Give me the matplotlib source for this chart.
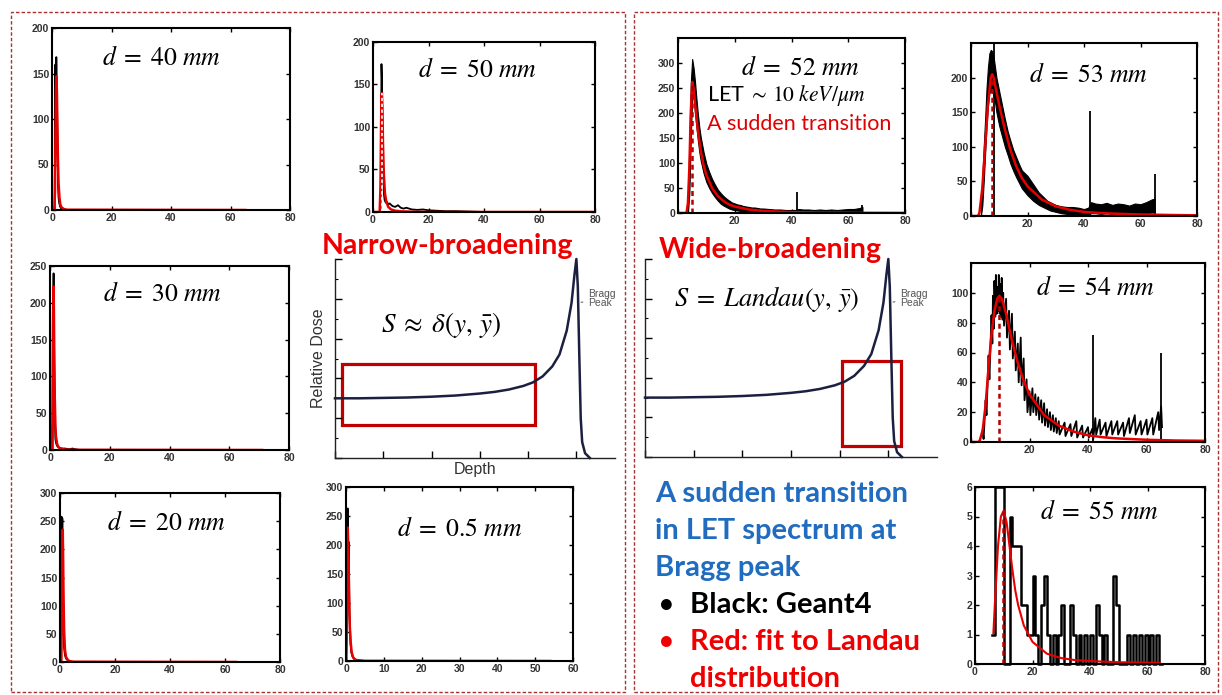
import numpy as np
import matplotlib
matplotlib.use("Agg")
import matplotlib.pyplot as plt
from matplotlib.patches import Rectangle

W, H = 1222, 695
plt.rcParams['mathtext.fontset'] = 'stix'
plt.rcParams['font.family'] = ['Liberation Sans', 'DejaVu Sans']

RED = '#e60000'
DRED = '#b40000'
BOXRED = '#c00000'
NAVY = '#1c2040'
BLUE = '#1f6cc0'

# ---- narrow-broadening spectra (black = Geant4, red = Landau fit) ----
bx40 = [0, 0.9, 1.0, 1.15, 1.3, 1.45, 1.6, 1.75, 1.9, 2.05, 2.2, 2.4, 2.7, 3.0, 3.5, 4.2, 5.0, 80]
by40 = [0, 0, 150, 160, 120, 168, 140, 100, 55, 25, 14, 8, 4, 2, 1, 0.5, 0, 0]
rx40 = [0.8, 1.0, 1.2, 1.35, 1.5, 1.65, 1.8, 2.0, 2.2, 2.5, 2.8, 3.2, 4.0, 5.0, 65]
ry40 = [0, 20, 90, 135, 147, 130, 95, 55, 30, 14, 6, 3, 1, 0.3, 0]

bx50 = [0, 2.4, 2.7, 2.9, 3.05, 3.2, 3.35, 3.5, 3.7, 3.9, 4.2, 4.6, 5.0, 5.5, 6, 7, 8, 9, 10,
        11, 12, 14, 16, 18, 20, 23, 26, 30, 35, 40, 80]
by50 = [0, 0, 3, 60, 174, 158, 120, 70, 38, 22, 14, 11, 12, 9, 10, 7, 6, 8, 5,
        4, 5, 3, 2.5, 3, 2, 1.5, 1, 1, 0.5, 0, 0]
rx50 = [0, 2.4, 2.7, 2.9, 3.05, 3.2, 3.4, 3.6, 3.9, 4.3, 4.8, 5.5, 6.5, 8, 10, 14, 20, 80]
ry50 = [0, 0, 30, 100, 135, 140, 120, 80, 45, 22, 12, 6, 3, 1.5, 0.8, 0.3, 0, 0]

bx30 = [0, 0.9, 1.05, 1.2, 1.35, 1.5, 1.65, 1.8, 2.0, 2.3, 2.7, 3.2, 4.0, 5.0, 6.5, 7.5, 8.5, 10, 80]
by30 = [0, 0, 180, 240, 150, 90, 40, 15, 10, 6, 4, 3, 2, 2, 1, 2, 1, 0, 0]
rx30 = [0.6, 0.8, 1.0, 1.15, 1.3, 1.45, 1.6, 1.8, 2.0, 2.4, 2.8, 3.5, 4.5, 6, 71]
ry30 = [0, 40, 170, 222, 190, 120, 70, 35, 18, 8, 4, 2, 1, 0.3, 0]

bx20 = [0, 0.4, 0.55, 0.7, 0.85, 1.0, 1.15, 1.3, 1.5, 1.8, 2.2, 2.8, 3.5, 5, 80]
by20 = [0, 0, 258, 200, 255, 180, 120, 60, 25, 12, 6, 3, 1, 0, 0]
rx20 = [0.5, 0.7, 0.85, 1.0, 1.15, 1.3, 1.5, 1.8, 2.2, 2.8, 3.5, 5, 64]
ry20 = [0, 120, 220, 235, 180, 110, 55, 22, 9, 4, 1.5, 0.5, 0]

bx05 = [0, 0.3, 0.45, 0.6, 0.75, 0.9, 1.05, 1.2, 1.4, 1.7, 2.1, 2.6, 3.5, 5, 60]
by05 = [0, 80, 263, 180, 205, 80, 60, 30, 15, 8, 4, 2, 1, 0, 0]
rx05 = [0.1, 0.3, 0.45, 0.6, 0.8, 1.0, 1.2, 1.5, 1.9, 2.5, 3.5, 5, 54]
ry05 = [0, 150, 230, 200, 120, 60, 35, 15, 6, 2, 1, 0.3, 0]

# ---- wide-broadening spectra: black band (upper / lower edge of noise) ----
x52b = [3.5, 4, 4.5, 5, 5.5, 6, 6.5, 7, 7.5, 8, 9, 10, 11, 12, 13, 14, 15, 16, 17, 18, 19, 20,
        21, 22, 23, 24, 25, 26, 27, 28, 29, 30, 32, 34, 36, 38, 40, 41.5, 42.5, 44, 46, 48, 50,
        52, 54, 56, 58, 60, 62, 64, 65]
hi52 = [30, 140, 260, 308, 290, 262, 228, 198, 172, 152, 122, 98, 82, 68, 57, 47, 40, 34, 29, 25,
        21, 19, 17, 16, 14, 13, 12, 11, 11, 10, 9, 9, 8, 7, 7, 6, 6, 6, 8, 7, 7, 6, 7, 6, 7, 6,
        7, 8, 8, 10, 12]
lo52 = [0, 40, 150, 235, 235, 200, 172, 145, 122, 105, 80, 62, 50, 40, 32, 25, 19, 15, 12, 9, 7,
        6, 5, 4, 3, 2, 2, 1, 1, 1, 0, 0, 0, 0, 0, 0, 0, 0, 1, 1, 1, 1, 1, 1, 1, 1, 1, 1, 2, 2, 2]
spx52, spy52 = [42, 65], [42, 17]
rx52 = [0, 3.0, 3.5, 4.0, 4.5, 5.0, 5.5, 6.0, 7, 8, 9, 10, 12, 14, 16, 18, 20, 25, 30, 40, 50, 65, 80]
ry52 = [0, 0, 20, 90, 200, 262, 250, 220, 165, 125, 96, 76, 50, 34, 24, 17, 13, 7, 4, 1.8, 0.9, 0.3, 0.1]

x53b = [3.5, 4, 4.5, 5, 5.5, 6, 6.5, 7, 7.5, 8, 8.5, 9, 10, 11, 12, 13, 14, 15, 16, 17, 18, 19,
        20, 21, 22, 23, 24, 25, 26, 27, 28, 29, 30, 32, 34, 36, 38, 40, 41.5, 42.5, 44, 46, 48,
        50, 52, 54, 56, 58, 60, 62, 64, 65]
hi53 = [15, 55, 100, 140, 185, 215, 235, 240, 238, 230, 215, 200, 180, 160, 140, 122, 108, 95,
        85, 75, 66, 62, 58, 52, 46, 40, 34, 30, 26, 22, 20, 18, 16, 14, 13, 13, 12, 10, 12, 20,
        18, 17, 19, 16, 18, 17, 15, 18, 17, 20, 24, 25]
lo53 = [0, 15, 50, 90, 130, 160, 178, 180, 180, 175, 165, 150, 130, 115, 100, 88, 75, 65, 56,
        48, 40, 35, 30, 26, 22, 19, 16, 14, 12, 10, 8, 7, 6, 4, 3, 3, 2, 2, 2, 4, 4, 3, 4, 3, 4,
        3, 3, 4, 3, 4, 5, 5]
spx53, spy53 = [8.3, 42, 65], [250, 152, 60]
rx53 = [0, 2.5, 3, 4, 5, 6, 7, 7.5, 8, 9, 10, 12, 14, 16, 18, 20, 25, 30, 35, 40, 45, 50, 60, 70, 80]
ry53 = [0, 0, 5, 40, 100, 160, 200, 205, 200, 180, 160, 125, 95, 72, 55, 43, 24, 14, 9, 6,
        4.5, 3.5, 2.2, 1.5, 1.0]

x54b = [4, 5, 6, 7, 7.5, 8, 8.5, 9, 9.5, 10, 10.5, 11, 12, 13, 14, 15, 16, 17, 18, 19, 20, 21,
        22, 23, 24, 25, 26, 27, 28, 29, 30, 32, 34, 36, 38, 40, 41.5, 42.5, 44, 46, 48, 50, 52,
        54, 56, 58, 60, 62, 64, 65]
hi54 = [8, 28, 58, 85, 98, 108, 112, 104, 112, 106, 110, 100, 96, 88, 86, 74, 66, 70, 56, 42,
        34, 36, 32, 30, 28, 26, 22, 20, 18, 16, 14, 13, 12, 14, 11, 10, 9, 16, 15, 13, 14, 14,
        13, 16, 18, 14, 15, 16, 20, 24]
lo54 = [2, 18, 42, 66, 76, 84, 86, 88, 86, 84, 82, 78, 70, 62, 56, 48, 40, 38, 28, 20, 18, 20,
        18, 15, 13, 11, 10, 8, 7, 6, 5, 4, 4, 3, 3, 3, 2, 5, 5, 4, 5, 5, 4, 6, 5, 5, 5, 5, 8, 10]
spx54, spy54 = [41.6, 64.8], [72, 60]
rx54 = [0, 2.5, 3, 4, 5, 6, 7, 8, 9, 9.7, 10.5, 11, 12, 14, 16, 18, 20, 25, 30, 35, 40, 45,
        50, 60, 70, 80]
ry54 = [0, 0, 1, 8, 25, 50, 72, 88, 96, 98, 96, 93, 86, 68, 53, 41, 32, 18, 11, 7, 4.5, 3.2,
        2.4, 1.5, 1.0, 0.8]

# d = 55 mm: sparse counts, one per 1-unit bin starting at 6
edges55 = list(range(6, 65))
cnt55 = [1, 6, 6, 6, 0, 0, 5, 4, 4, 4, 2, 2, 1, 1, 3, 1, 0, 2, 3, 1, 0, 1, 0, 1, 2, 0, 0, 2, 1,
         0, 1, 0, 1, 0, 1, 0, 2, 1, 0, 1, 0, 0, 3, 2, 0, 0, 0, 1, 0, 1, 0, 1, 0, 1, 0, 1, 0, 1, 0]
rx55 = [6.4, 7, 8, 9, 10, 11, 12, 13, 14, 15, 17, 20, 25, 30, 35, 40, 50, 64.3]
ry55 = [1.05, 2.2, 4.0, 5.0, 5.2, 4.8, 4.0, 3.2, 2.5, 2.0, 1.3, 0.75, 0.35, 0.2, 0.13, 0.1, 0.06, 0.04]

# most probable values (dashed markers)
mode50, mode52, mode53, mode54, mode55 = 3.2, 5.0, 7.3, 9.7, 9.9

# ---- Bragg curve (relative dose vs depth) ----
bragg_x = [0, 0.5, 1, 1.5, 2, 2.5, 3, 3.3, 3.6, 3.9, 4.1, 4.3, 4.5, 4.65, 4.8, 4.9, 4.96,
           5.0, 5.03, 5.06, 5.09, 5.12, 5.18, 5.28]
bragg_y = [1.5, 1.5, 1.51, 1.52, 1.54, 1.57, 1.62, 1.66, 1.72, 1.81, 1.9, 2.05, 2.3, 2.6, 3.2,
           3.9, 4.6, 5.0, 4.3, 2.6, 1.0, 0.4, 0.12, 0]


def px_axes(fig, l, t, r, b):
    return fig.add_axes([l / W, 1 - b / H, (r - l) / W, (b - t) / H])


def spec_axes(fig, box, xmax, ymax, ystep, ytop, xstep=20, show_x0=True):
    ax = px_axes(fig, *box)
    ax.set_xlim(0, xmax); ax.set_ylim(0, ymax)
    xt = list(range(0, xmax + 1, xstep))
    ax.set_xticks(xt)
    ax.set_xticklabels([str(v) if (v or show_x0) else '' for v in xt])
    ax.set_yticks(list(range(0, ytop + 1, ystep)))
    ax.tick_params(direction='in', length=3, width=1, top=True, right=True,
                   labelsize=7.5, pad=2, labelcolor='#333333')
    for lab in ax.get_xticklabels() + ax.get_yticklabels():
        lab.set_fontweight('bold')
    for s in ax.spines.values():
        s.set_linewidth(1.5)
    return ax


def label(ax, x, y, s, size=18.5):
    ax.text(x, y, s, transform=ax.transAxes, ha='center', va='center', fontsize=size)


def narrow(ax, bx, by, rx, ry):
    ax.plot(bx, by, color='k', lw=1.3)
    ax.plot(rx, ry, color=RED, lw=1.8)


def wide(ax, xb, hi, lo, spx, spy, rx, ry, mode, zigzag=False):
    if zigzag:
        xs = np.ravel(np.column_stack([xb, np.array(xb) + 0.3]))
        ys = np.ravel(np.column_stack([hi, lo]))
        ax.plot(xs, ys, color='k', lw=1.3)
    else:
        ax.fill_between(xb, lo, hi, color='k', lw=0.8, edgecolor='k')
    ax.vlines(spx, 0, spy, color='k', lw=1.3)
    ax.plot([65, 80], [0, 0], color='k', lw=1.2)
    ax.plot(rx, ry, color=RED, lw=1.8)
    ax.vlines([mode], 0, [np.interp(mode, rx, ry)], color=DRED, lw=1.8, linestyles=(0, (2, 1.5)))


def bragg_axes(fig, box, xmax):
    ax = px_axes(fig, *box)
    ax.plot(bragg_x, bragg_y, color=NAVY, lw=1.8, clip_on=False)
    ax.set_xlim(0, xmax); ax.set_ylim(0, 5.0)
    ax.spines[['top', 'right']].set_visible(False)
    for s in ('left', 'bottom'):
        ax.spines[s].set_color('#222222'); ax.spines[s].set_linewidth(1.0)
    ax.set_xticks(range(0, 6)); ax.set_yticks(range(0, 6))
    ax.set_yticks(np.arange(0.5, 5, 1.0), minor=True)
    ax.tick_params(direction='in', length=5, width=1, labelbottom=False, labelleft=False)
    ax.tick_params(which='minor', direction='in', length=2.5, width=0.8)
    ax.annotate('Bragg\nPeak', xy=(5.04, 3.9), xytext=(5.25, 4.0), fontsize=7.5, color='#555555',
                va='center', ha='left', linespacing=0.85,
                arrowprops=dict(arrowstyle='-', color='#555555', lw=0.7))
    return ax


fig = plt.figure(figsize=(W / 100, H / 100), dpi=100)

# dashed frames
for (x0, y0, x1, y1) in [(11, 12, 625, 692), (634, 12, 1218, 692)]:
    fig.add_artist(Rectangle((x0 / W, 1 - y1 / H), (x1 - x0) / W, (y1 - y0) / H,
                             transform=fig.transFigure, fill=False, ec='#a83232', lw=1.0,
                             ls=(0, (2.5, 1.5))))

# left column
ax = spec_axes(fig, (52, 28, 290, 210), 80, 200, 50, 200)
narrow(ax, bx40, by40, rx40, ry40)
label(ax, 0.46, 0.835, r'$d\;=\;40\ mm$')

ax = spec_axes(fig, (50, 266, 289, 450), 80, 250, 50, 250)
narrow(ax, bx30, by30, rx30, ry30)
label(ax, 0.47, 0.85, r'$d\;=\;30\ mm$')

ax = spec_axes(fig, (60, 493, 280, 662), 80, 300, 50, 300)
narrow(ax, bx20, by20, rx20, ry20)
label(ax, 0.486, 0.82, r'$d\;=\;20\ mm$')

# middle-left column
ax = spec_axes(fig, (373, 42, 595, 212), 80, 200, 50, 200)
narrow(ax, bx50, by50, rx50, ry50)
ax.vlines([mode50], 0, [140], color='white', lw=1.2, linestyles=(0, (2, 1.5)))
label(ax, 0.47, 0.835, r'$d\;=\;50\ mm$')

ax = spec_axes(fig, (346, 487, 573, 661), 60, 300, 50, 300, xstep=10)
narrow(ax, bx05, by05, rx05, ry05)
label(ax, 0.50, 0.76, r'$d\;=\;0.5\ mm$')

ax = bragg_axes(fig, (335, 259, 615, 458), 5.8)
ax.add_patch(Rectangle((0.14, 0.84), 4.0, 1.51, fill=False, ec=BOXRED, lw=2.3))
ax.text(2.2, 3.35, r'$S\;\approx\;\delta(y,\,\bar{y})$', fontsize=19.5, ha='center', va='center')
ax.set_ylabel('Relative Dose', fontsize=11.5, color='#333333', labelpad=3)
ax.set_xlabel('Depth', fontsize=11.5, color='#333333', labelpad=3)

fig.text(448 / W, 1 - 246 / H, 'Narrow-broadening', color='#ee0000', fontsize=20.5,
         fontweight='bold', family='Lato', ha='center', va='center')

# right side
ax = spec_axes(fig, (678, 38, 905, 213), 80, 350, 50, 300, show_x0=False)
wide(ax, x52b, hi52, lo52, spx52, spy52, rx52, ry52, mode52)
label(ax, 0.54, 0.83, r'$d\;=\;52\ mm$')
ax.text(0.128, 0.67, r'LET $\sim\,10\ keV/\mu m$', transform=ax.transAxes, fontsize=15.5,
        ha='left', va='center', family='Lato')
ax.text(0.128, 0.51, 'A sudden transition', transform=ax.transAxes, fontsize=15.5,
        ha='left', va='center', color='#e00000', family='Lato')

ax = spec_axes(fig, (971, 43, 1197, 216), 80, 250, 50, 200, show_x0=False)
wide(ax, x53b, hi53, lo53, spx53, spy53, rx53, ry53, mode53)
label(ax, 0.52, 0.815, r'$d\;=\;53\ mm$')

ax = spec_axes(fig, (971, 263, 1205, 442), 80, 120, 20, 100, show_x0=False)
wide(ax, x54b, hi54, lo54, spx54, spy54, rx54, ry54, mode54, zigzag=True)
label(ax, 0.53, 0.86, r'$d\;=\;54\ mm$')

ax = spec_axes(fig, (975, 487, 1205, 664), 80, 6, 1, 6)
ax.step(edges55 + [65], cnt55 + [0], where='post', color='k', lw=1.8, clip_on=False)
ax.plot(rx55, ry55, color=RED, lw=1.5)
ax.vlines([mode55], 0, [5.2], color=DRED, lw=1.8, linestyles=(0, (2, 1.5)))
label(ax, 0.54, 0.86, r'$d\;=\;55\ mm$')

ax = bragg_axes(fig, (645, 259, 937, 457), 6.0)
ax.add_patch(Rectangle((4.05, 0.27), 1.2, 2.16, fill=False, ec=BOXRED, lw=2.3))
ax.text(2.5, 4.0, r'$S\;=\;Landau(y,\,\bar{y})$', fontsize=19, ha='center', va='center')

fig.text(770 / W, 1 - 250 / H, 'Wide-broadening', color='#ee0000', fontsize=20.5,
         fontweight='bold', family='Lato', ha='center', va='center')

# notes
for i, line in enumerate(['A sudden transition', 'in LET spectrum at', 'Bragg peak']):
    fig.text(655 / W, 1 - (502 + 37 * i) / H, line, color=BLUE, fontsize=21,
             fontweight='bold', family='Lato', ha='left', va='baseline')
fig.text(658 / W, 1 - 613 / H, '\u2022', color='k', fontsize=21, family='Lato', va='baseline')
fig.text(690 / W, 1 - 613 / H, 'Black: Geant4', color='k', fontsize=21, fontweight='bold',
         family='Lato', va='baseline')
fig.text(658 / W, 1 - 650 / H, '\u2022', color='#ee0000', fontsize=21, family='Lato', va='baseline')
fig.text(690 / W, 1 - 650 / H, 'Red: fit to Landau', color='#ee0000', fontsize=21,
         fontweight='bold', family='Lato', va='baseline')
fig.text(690 / W, 1 - 687 / H, 'distribution', color='#ee0000', fontsize=21, fontweight='bold',
         family='Lato', va='baseline')

fig.savefig('out.png', dpi=100)
